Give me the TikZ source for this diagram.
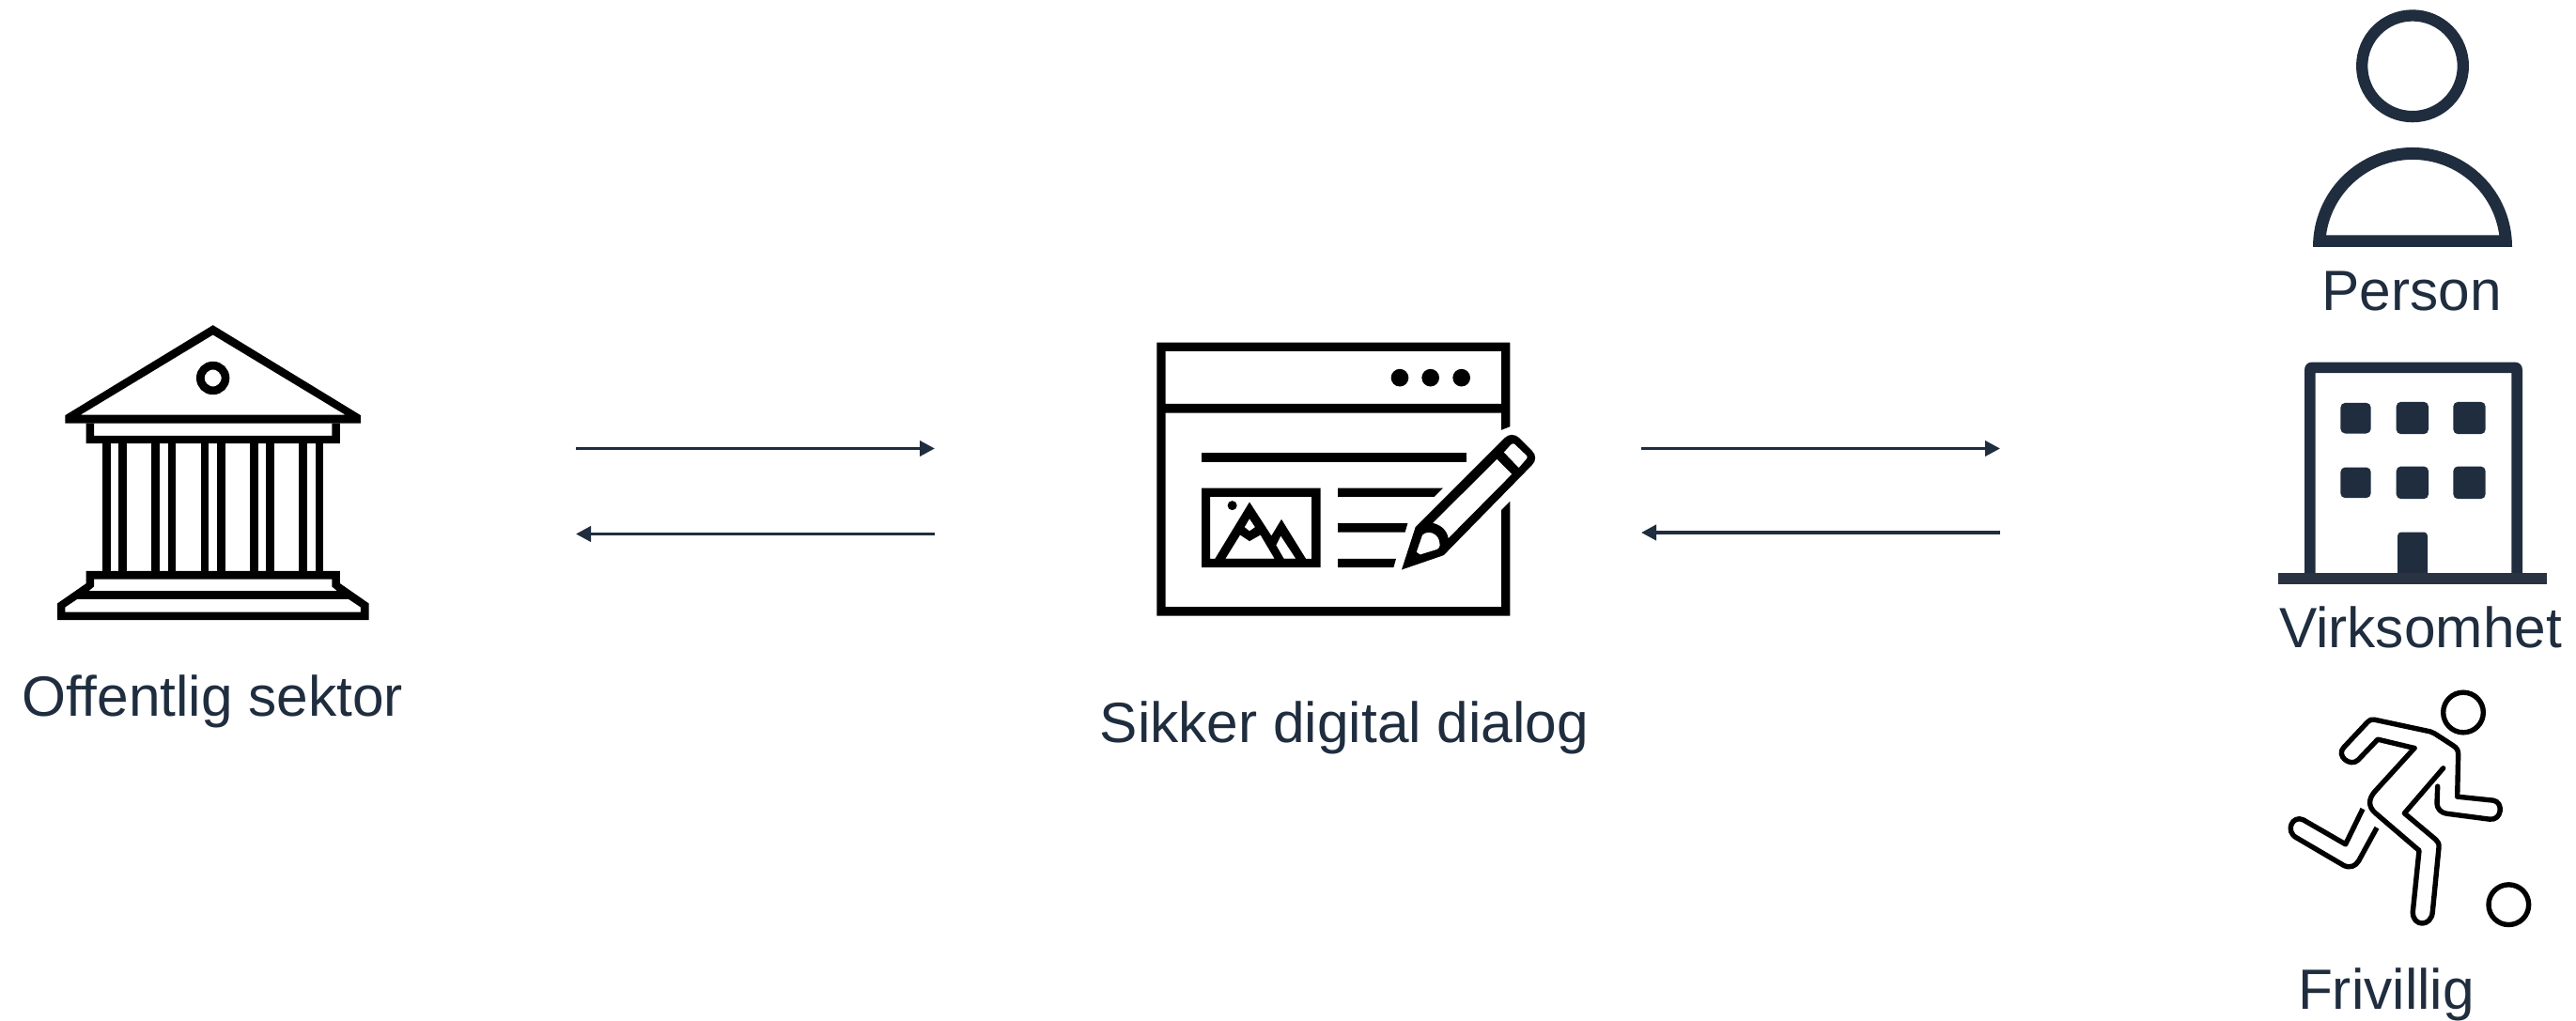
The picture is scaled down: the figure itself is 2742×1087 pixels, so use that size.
\documentclass[tikz,border=0pt]{standalone}
\usepackage{fontspec}
\setmainfont{Liberation Sans}
\usetikzlibrary{arrows.meta}
\definecolor{navy}{HTML}{1F2D3F}
\definecolor{ground}{HTML}{2B3342}
\tikzset{
  zoomed/.style 2 args={shift={(#1pt,-#2pt)},x=1pt/3,y=-1pt/3},
  blackfill/.style={fill=black,even odd rule,draw=none},
  navyfill/.style={fill=navy,even odd rule,draw=none},
  label/.style={text=navy,font=\fontsize{60.4}{72}\selectfont,anchor=base,inner sep=0pt},
  flow/.style={draw=navy,line width=3.8pt,-{Triangle[length=16pt,width=16pt]}},
  runner/.style={draw=black,line width=5.4pt,line cap=round,line join=round}
}
\begin{document}
\begin{tikzpicture}[x=1pt,y=-1pt]
\useasboundingbox (0,0) rectangle (2742,1087);
\fill[white] (0,0) rectangle (2742,1087);

% temple
\begin{scope}[zoomed={40}{330.5}]
\path[blackfill] (560,47)--(1032,335)--(1032,360)--(88,360)--(88,335)--cycle
  (560,78)--(982,333)--(138,333)--cycle;
\path[blackfill] (155,360) rectangle (966,425) (180,360) rectangle (940,400);
\foreach \a/\b in {207/233,259/285,364/390,416/442,521/547,573/600,678/704,730/757,835/861,887/913}
  \path[blackfill] (\a,424) rectangle (\b,833);
\path[blackfill] (155,832)--(966,832)--(966,872)--(1058,936)--(1058,989)--(63,989)--(63,936)--(155,872)--cycle
  (180,858)--(940,858)--(940,882)--(957,896)--(163,896)--(180,882)--cycle
  (127,922)--(993,922)--(1032,948)--(1032,963)--(88,963)--(88,948)--cycle;
\draw[black,line width=8.7pt] (560,216) circle[radius=40];
\end{scope}

% window with pencil
\begin{scope}[zoomed={1210}{350.5}]
\path[blackfill] (64,42)--(1192,42)--(1192,311)--(1164,322)--(1164,267)--(92,267)--(92,887)--(1164,887)--(1164,578)--(1192,550)--(1192,915)--(64,915)--cycle
  (92,70) rectangle (1164,238);
\foreach \c in {840,938,1037} \fill[black] (\c,155) circle[radius=28];
\path[blackfill] (207,393) rectangle (1053,423);
\path[blackfill] (207,507) rectangle (587,761) (234,535) rectangle (558,733);
\path[blackfill] (250,733)--(360,552)--(430,660)--(462,607)--(540,733)--cycle
  (360,605)--(378,632)--(360,645)--(344,632)--cycle
  (283,733)--(330,657)--(360,677)--(395,657)--(440,733)--cycle
  (460,660)--(508,733)--(470,733)--(445,690)--cycle;
\fill[black] (305,563) circle[radius=15];
\path[blackfill] (642,507)--(978,507)--(950,535)--(642,535)--cycle;
\path[blackfill] (642,620)--(865,620)--(857,648)--(642,648)--cycle;
\path[blackfill] (642,733)--(828,733)--(820,761)--(642,761)--cycle;
\path[blackfill] (846,768)--(890,632)--(1175,347) .. controls (1188,334) and (1208,334) .. (1221,347)
  --(1262,388) .. controls (1276,402) and (1276,420) .. (1262,434)--(980,722)--cycle
  (945,619)--(1150,415)--(1198,463)--(995,668) .. controls (990,640) and (970,625) .. (945,619)--cycle
  (912,657) .. controls (930,640) and (968,650) .. (968,690) .. controls (968,695) and (965,700) .. (960,703)--(905,720)--(893,712)--cycle
  (1172,393)--(1195,368) .. controls (1200,364) and (1204,364) .. (1208,368)--(1245,403) .. controls (1248,407) and (1248,410) .. (1245,414)--(1220,443)--cycle;
\end{scope}

% person
\begin{scope}[zoomed={2400}{0.3}]
\draw[navy,line width=12.3pt] (504,210) circle[radius=161.5];
\path[navyfill] (186,788) arc[start angle=180,end angle=360,radius=318]--cycle
  (228,750) arc[start angle=187.8,end angle=352.2,radius=279]--cycle;
\end{scope}

% building
\begin{scope}[zoomed={2400}{360.5}]
\path[navyfill] (159,750)--(159,100) .. controls (159,85) and (169,75) .. (184,75)--(830,75) .. controls (845,75) and (855,85) .. (855,100)--(855,750)--cycle
  (194,110) rectangle (820,750);
\foreach \xa/\ya/\xb/\yb in {274/205/371/303,452/202/555/305,634/202/737/305,274/411/371/509,452/408/555/512,634/408/737/512}
  \fill[navy,rounded corners=5pt] (\xa,\ya) rectangle (\xb,\yb);
\fill[navy,rounded corners=4pt] (456,760)--(456,618)--(552,618)--(552,760)--cycle;
\fill[ground] (75,748) rectangle (933,785);
\end{scope}

% runner
\begin{scope}[zoomed={2400}{720.5}]
\draw[runner] (666,114) circle[radius=64];
\draw[runner] (811,728) circle[radius=64];
\draw[runner] (510,228)--(393,200)--(330,266) .. controls (305,290) and (258,252) .. (285,225)
  --(360,145) .. controls (366,138) and (374,135) .. (382,137)--(560,175) .. controls (566,177) and (570,178) .. (574,181)
  --(634,220) .. controls (645,227) and (650,235) .. (650,248)--(647,383)--(762,395) .. controls (795,400) and (790,460) .. (750,455)
  --(612,437) .. controls (595,435) and (582,420) .. (582,405)--(584,350);
\draw[runner] (510,228)--(385,365) .. controls (362,390) and (362,415) .. (385,435)--(525,555)--(505,750)
  .. controls (503,800) and (565,800) .. (568,750)--(588,545) .. controls (589,532) and (585,527) .. (578,520)
  --(478,436)--(602,292);
\draw[runner,line cap=butt] (345,422)--(290,535)--(155,457) .. controls (120,440) and (95,495) .. (135,515)
  --(285,603) .. controls (305,612) and (322,605) .. (332,588)--(390,482);
\end{scope}

% labels
\node[label] (offentlig) at (226.5,762.5) {Offentlig sektor};
\node[label] (sikker) at (1431,790.5) {Sikker digital dialog};
\node[label] (person) at (2567,330.5) {Person};
\node[label] (virksomhet) at (2576.5,689.5) {Virksomhet};
\node[label] (frivillig) at (2540,1074.5) {Frivillig};

% connectors
\coordinate (a1) at (613,477.5);
\coordinate (a2) at (995,477.5);
\coordinate (b1) at (995,568.5);
\coordinate (b2) at (613,568.5);
\coordinate (c1) at (1747,477.5);
\coordinate (c2) at (2129,477.5);
\coordinate (d1) at (2129,567);
\coordinate (d2) at (1747,567);
\draw[flow] (a1)--(a2);
\draw[flow] (b1)--(b2);
\draw[flow] (c1)--(c2);
\draw[flow] (d1)--(d2);
\end{tikzpicture}
\end{document}
